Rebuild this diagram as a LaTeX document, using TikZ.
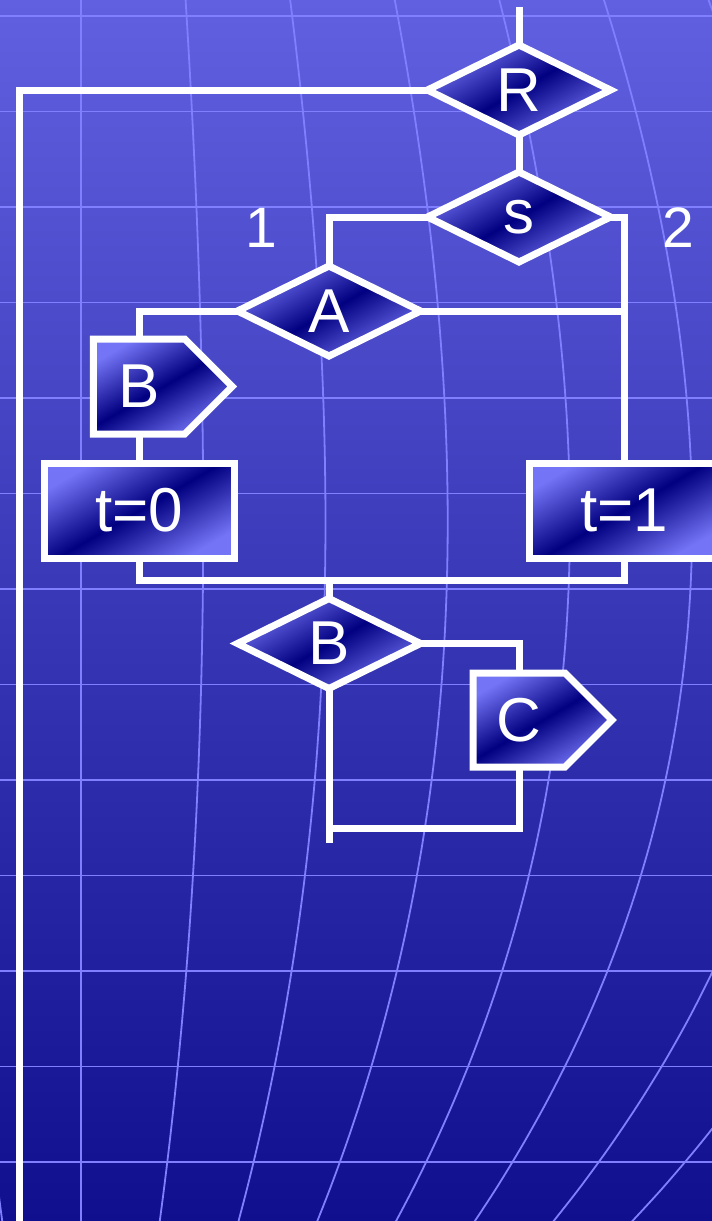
\documentclass[tikz,border=0pt]{standalone}
\usepackage{fontspec}
\setmainfont{Liberation Sans}
\usetikzlibrary{shapes.geometric,shapes.symbols}

\definecolor{bgtop}{RGB}{96,96,224}
\definecolor{bgbottom}{RGB}{16,16,142}
\definecolor{gridblue}{RGB}{128,128,255}
\definecolor{boxlight}{RGB}{116,116,246}
\definecolor{boxdark}{RGB}{0,0,128}

\begin{document}
\begin{tikzpicture}[x=1pt,y=-1pt,
        flowline/.style={draw=white,line width=7pt},
        gridline/.style={gridblue,line width=1.8pt},
        boxfill/.style={draw=white,line width=7pt,text=white,inner sep=0pt,outer sep=0pt,
            top color=boxlight,bottom color=boxlight,middle color=boxdark,shading angle=30,
            font=\fontsize{62}{70}\selectfont},
        decision/.style={boxfill,diamond,minimum width=183pt,minimum height=90pt},
        process/.style={boxfill,rectangle,minimum width=190pt,minimum height=95pt},
        outbox/.style={boxfill,signal,signal to=east,signal pointer angle=90,minimum width=139pt,minimum height=95pt},
        branch/.style={text=white,font=\fontsize{57}{64}\selectfont}
    ]
    \useasboundingbox (0,0) rectangle (712,1221);
    \clip (0,0) rectangle (712,1221);

    % Draw the background
    \shade[top color=bgtop,bottom color=bgbottom] (0,0) rectangle (712,1221);
    \foreach \r in {0,...,12}
        \draw[gridline] (0,{16+95.5*\r}) -- (712,{16+95.5*\r});
    \foreach \k in {-1,...,7}
        \draw[gridline] plot[smooth,domain=-0.01:1.01,samples=30,variable=\u]
            ({81+\k*(104.6+76.02*\u-66.02*\u*\u-35.8*\u*\u*\u)},{1221*\u});

    % Define the nodes
    \node[decision] (R) at (519,90) {R};
    \node[decision] (s) at (519,217) {s};
    \node[decision] (A) at (329,311) {A};
    \node[outbox] (Bout) at (139,386.5) {B};
    \node[process] (t0) at (139,510.5) {t=0};
    \node[process] (t1) at (624,510.5) {t=1};
    \node[decision] (Bdec) at (329,643.5) {B};
    \node[outbox,minimum height=94pt] (Cout) at (519,720) {C};
    \node[branch] (one) at (261,228) {1};
    \node[branch] (two) at (678,228) {2};

    % Free ends of the lines
    \coordinate (entry) at (519,7);
    \coordinate (loopback) at (19,1230);
    \coordinate (join) at (329,580);
    \coordinate (merge) at (329,828);
    \coordinate (exit) at (329,843);

    % Draw the connectors
    \draw[flowline] (entry) -- (R.north);
    \draw[flowline] (R.west) -| (loopback);
    \draw[flowline] (R.south) -- (s.north);
    \draw[flowline] (s.west) -| (A.north);
    \draw[flowline] (s.east) -| (t1.north);
    \draw[flowline] (A.east) -- (A.east -| t1.north);
    \draw[flowline] (A.west) -| (Bout.north);
    \draw[flowline] (Bout.south) -- (t0.north);
    \draw[flowline] (t0.south) |- (join) -| (t1.south);
    \draw[flowline] (join) -- (Bdec.north);
    \draw[flowline] (Bdec.east) -| (Cout.north);
    \draw[flowline] (Cout.south) |- (merge);
    \draw[flowline] (Bdec.south) -- (exit);
\end{tikzpicture}
\end{document}
